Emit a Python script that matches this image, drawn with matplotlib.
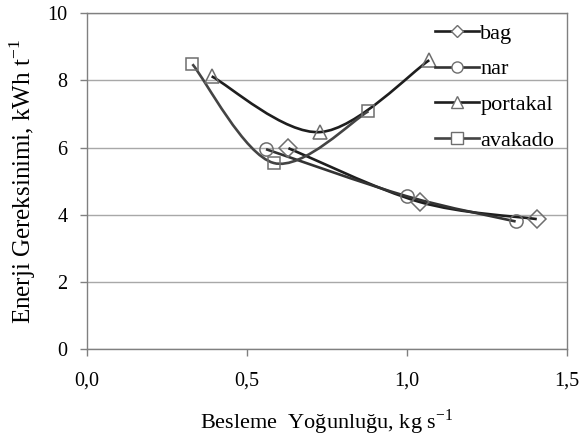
import numpy as np
import matplotlib
matplotlib.use('Agg')
import matplotlib.pyplot as plt
from matplotlib.path import Path
from matplotlib.patches import PathPatch
from matplotlib.lines import Line2D

plt.rcParams['font.family'] = ['Liberation Serif', 'DejaVu Serif']
plt.rcParams['mathtext.fontset'] = 'custom'
plt.rcParams['mathtext.rm'] = 'Liberation Serif'

# data
bag_x = [0.63, 1.04, 1.406]
bag_y = [5.98, 4.38, 3.87]
nar_x = [0.56, 1.0, 1.34]
nar_y = [5.95, 4.55, 3.80]
portakal_x = [0.39, 0.73, 1.07]
portakal_y = [8.12, 6.46, 8.60]
avakado_x = [0.33, 0.584, 0.88]
avakado_y = [8.48, 5.54, 7.08]

names = ['bag', 'nar', 'portakal', 'avakado']
markers = ['D', 'o', '^', 's']
msizes = [9, 9.5, 9.5, 9]
leg_msizes = [6, 8, 8, 8]
line_cols = ['#1e1e1e', '#333333', '#1e1e1e', '#444444']


def smooth_path(xs, ys):
    # excel style smoothed line: catmull-rom turned into cubic bezier
    p = np.column_stack([xs, ys])
    n = len(p)
    verts = [p[0]]
    codes = [Path.MOVETO]
    for i in range(n - 1):
        p0 = p[i - 1] if i > 0 else p[i]
        p3 = p[i + 2] if i + 2 < n else p[i + 1]
        c1 = p[i] + (p[i + 1] - p0) / 6.0
        c2 = p[i + 1] - (p3 - p[i]) / 6.0
        verts += [c1, c2, p[i + 1]]
        codes += [Path.CURVE4] * 3
    return Path(verts, codes)


fig = plt.figure(figsize=(5.79, 4.37), dpi=100)
ax = fig.add_axes([0.150, 0.201, 0.829, 0.769])

series = [(bag_x, bag_y), (nar_x, nar_y), (portakal_x, portakal_y), (avakado_x, avakado_y)]
handles = []
for (xs, ys), name, mk, ms, lms, lc in zip(series, names, markers, msizes, leg_msizes, line_cols):
    patch = PathPatch(smooth_path(xs, ys), facecolor='none', edgecolor=lc, lw=1.9, zorder=3)
    ax.add_patch(patch)
    ax.plot(xs, ys, linestyle='none', marker=mk, markersize=ms, markerfacecolor='none',
            markeredgecolor='#6e6e6e', markeredgewidth=1.1, zorder=4)
    handles.append(Line2D([], [], color=lc, lw=1.9, marker=mk, markersize=lms,
                          markerfacecolor='white', markeredgecolor='#6e6e6e',
                          markeredgewidth=1.0, label=name))

ax.set_xlim(0, 1.5)
ax.set_ylim(0, 10)
ax.set_xticks([0, 0.5, 1.0, 1.5])
ax.set_xticklabels(['0,0', '0,5', '1,0', '1,5'])
ax.set_yticks([0, 2, 4, 6, 8, 10])
ax.yaxis.grid(True, color='#a8a8a8', lw=1.0)
ax.set_axisbelow(True)
for s in ax.spines.values():
    s.set_color('#808080')
    s.set_linewidth(1.0)
ax.tick_params(axis='both', direction='out', length=5, width=1, color='#808080',
               labelsize=14.5)
ax.tick_params(axis='y', pad=9)
ax.tick_params(axis='x', pad=11)

ax.set_xlabel('Besleme  Yoğunluğu, kg s$^{\\mathregular{-1}}$', fontsize=16, labelpad=12)
ax.set_ylabel('Enerji Gereksinimi, kWh t$^{\\mathregular{-1}}$', fontsize=18, labelpad=7)

leg = ax.legend(handles=handles, loc='upper left', bbox_to_anchor=(0.725, 0.97),
                frameon=False, fontsize=16, handlelength=2.0, handletextpad=0.05,
                labelspacing=0.68, borderaxespad=0, borderpad=0)

fig.savefig('out.png', dpi=100)
